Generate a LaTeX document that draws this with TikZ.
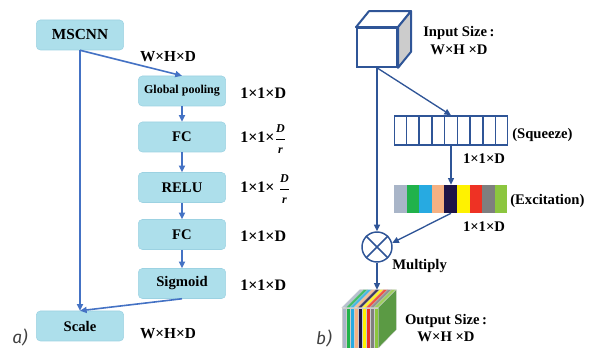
\documentclass[tikz,border=0pt]{standalone}
\usepackage{amsmath}
\usepackage{fontspec}
\setmainfont{Liberation Serif}
\newfontfamily\tagfont{Fira Sans}
\usepackage{xcolor}
\definecolor{seblue}{HTML}{4472C4}
\definecolor{cubeblue}{HTML}{2F5597}
\definecolor{boxfill}{HTML}{ADDFEB}
\definecolor{boxline}{HTML}{9CD2E2}
\definecolor{excA}{HTML}{A9B5C8}
\definecolor{excB}{HTML}{21B24B}
\definecolor{excC}{HTML}{27AAE1}
\definecolor{excD}{HTML}{F5B183}
\definecolor{excE}{HTML}{1E1548}
\definecolor{excF}{HTML}{FFF200}
\definecolor{excG}{HTML}{EE3224}
\definecolor{excH}{HTML}{7F7F7F}
\definecolor{excI}{HTML}{8CC63F}
\definecolor{sidegreen}{HTML}{5B9A44}
\usepackage{tikz}
\usetikzlibrary{
    arrows.meta,
    positioning,
    calc
}
% reduced channel count D/r
\newcommand{\redfrac}[2]{$\genfrac{}{}{}{0}{\text{\fontsize{9}{9}\selectfont\textit{#1}}}{\text{\fontsize{9}{9}\selectfont\textit{#2}}}$}

\begin{document}
\begin{tikzpicture}[
    x=0.75pt, y=-0.75pt,
    >={Triangle[length=5pt, width=4.5pt]},
    every text node part/.style={align=center},
    box/.style={draw=boxline, fill=boxfill, rounded corners=3pt, minimum width=65.5pt, minimum height=22.5pt, inner sep=0pt, font=\fontsize{11}{13}\selectfont\bfseries},
    dim/.style={anchor=west, inner sep=0pt, font=\fontsize{12}{14}\selectfont\bfseries},
    lbl/.style={inner sep=0pt, font=\fontsize{11}{13.5}\selectfont\bfseries},
    tag/.style={inner sep=0pt, text=black!75, font=\fontsize{13}{15}\selectfont\tagfont\itshape},
    bus/.style={draw=seblue, line width=1.2pt, ->},
    link/.style={draw=cubeblue, line width=1pt, ->},
    edge/.style={draw=cubeblue, line width=1.1pt}
]
\useasboundingbox (0,0) rectangle (601,348);

% ==================== PANEL A: SE BLOCK ON MSCNN ====================
\node[box, font=\fontsize{11.5}{13}\selectfont\bfseries] (mscnn) at (80,35) {MSCNN};
\node[box, font=\fontsize{9}{11}\selectfont\bfseries] (pool) at (182,91) {Global pooling};
\node[box] (fc_a) at (182,137) {FC};
\node[box] (relu) at (182,187.5) {RELU};
\node[box] (fc_b) at (182,234.5) {FC};
\node[box] (sig) at (182,283.5) {Sigmoid};
\node[box] (scale) at (80,326) {Scale};

\node[dim, anchor=center, font=\fontsize{11.5}{13}\selectfont\bfseries] (in_dim) at (168,57) {W×H×D};
\node[dim] (pool_dim) at (240,93) {1×1×D};
\node[dim] (fc_a_dim) at (240,139) {1×1×\redfrac{D}{r}};
\node[dim] (relu_dim) at (240,189) {1×1× \redfrac{D}{r}};
\node[dim] (fc_b_dim) at (240,236) {1×1×D};
\node[dim] (sig_dim) at (240,285) {1×1×D};
\node[dim, anchor=center, font=\fontsize{11.5}{13}\selectfont\bfseries] (out_dim) at (168,334) {W×H×D};
\node[tag] (tag_a) at (20,337) {a)};

\draw[bus] (mscnn.south) -- (pool.north);
\draw[bus] (mscnn.south) -- (scale.north);
\draw[bus] (pool) -- (fc_a);
\draw[bus] (fc_a) -- (relu);
\draw[bus] (relu) -- (fc_b);
\draw[bus] (fc_b) -- (sig);
\draw[bus] (sig.south) -- (scale.north);

% ==================== PANEL B: SQUEEZE AND EXCITATION ====================
% input cube
\node[draw=cubeblue, line width=1.5pt, fill=white, minimum width=30pt, minimum height=29pt, inner sep=0pt] (cube) at (377,47.5) {};
\draw[cubeblue, line width=1.5pt, line join=round, fill=white]
    (cube.north west) -- ($(cube.north west)+(13,-16)$) -- ($(cube.north east)+(13,-16)$) -- (cube.north east) -- cycle;
\draw[cubeblue, line width=1.5pt, line join=round, fill=black!20]
    (cube.north east) -- ($(cube.north east)+(13,-16)$) -- ($(cube.south east)+(13,-16)$) -- (cube.south east) -- cycle;
\node[lbl, anchor=west, align=left] (in_txt) at (423,41) {Input Size\,:\\W×H ×D};

% squeeze vector
\node[edge, draw, minimum width=84.75pt, minimum height=21.75pt, inner sep=0pt] (sq) at (451,130.5) {};
\foreach \i in {1,...,8}
    \draw[edge] ($(sq.north west)!\i/9!(sq.north east)$) -- ($(sq.south west)!\i/9!(sq.south east)$);
\node[lbl, anchor=west] (sq_txt) at (512,135) {(Squeeze)};
\node[lbl] (sq_dim) at (484,159) {1×1×D};

% excitation weights
\node[minimum width=84.75pt, minimum height=21pt, inner sep=0pt] (ex) at (451,199) {};
\foreach \c [count=\i from 0] in {excA,excB,excC,excD,excE,excF,excG,excH,excI}
    \fill[\c] ($(ex.north west)+({12.556*\i},0)$) rectangle ($(ex.south west)+({12.556*(\i+1)},0)$);
\node[lbl, anchor=west] (ex_txt) at (510,201) {(Excitation)};
\node[lbl] (ex_dim) at (484,227) {1×1×D};

% multiply
\node[circle, edge, draw, minimum size=22.5pt, inner sep=0pt] (mul) at (377,247) {};
\draw[edge] (mul.north west) -- (mul.south east) (mul.north east) -- (mul.south west);
\node[lbl, anchor=west] (mul_txt) at (392,266) {Multiply};

% output stack
\node[minimum width=27pt, minimum height=30pt, inner sep=0pt] (outp) at (360,328) {};
\coordinate (stacktop) at ($(outp.north west)+(18,-18)$);
\foreach \c [count=\i from 0] in {excA,excB,excC,excD,excE,excF,excG,excH,excI} {
    \filldraw[fill=\c, draw=black!20, line width=0.2pt] ($(outp.south west)+({4*\i},0)$) rectangle ($(outp.north west)+({4*\i+4},0)$);
    \filldraw[fill=\c!85!white, draw=black!20, line width=0.2pt] ($(outp.north west)+({4*\i},0)$) -- ++(4,0) -- ++(18,-18) -- ++(-4,0) -- cycle;
}
\filldraw[fill=sidegreen, draw=black!20, line width=0.2pt] (outp.north east) -- ++(18,-18) -- ++(0,40) -- (outp.south east) -- cycle;
\node[lbl, font=\fontsize{11}{12.75}\selectfont\bfseries] (out_txt) at (446,328) {Output Size\,:\\W×H ×D};
\node[tag] (tag_b) at (324,338) {b)};

\draw[link] (cube.south) -- (sq.north);
\draw[link] (cube.south) -- (mul.north);
\draw[link] (sq.south) -- (ex.north);
\draw[link] (ex.south) -- (mul.15);
\draw[link] (mul.south) -- (mul.south |- stacktop);

\end{tikzpicture}
\end{document}
